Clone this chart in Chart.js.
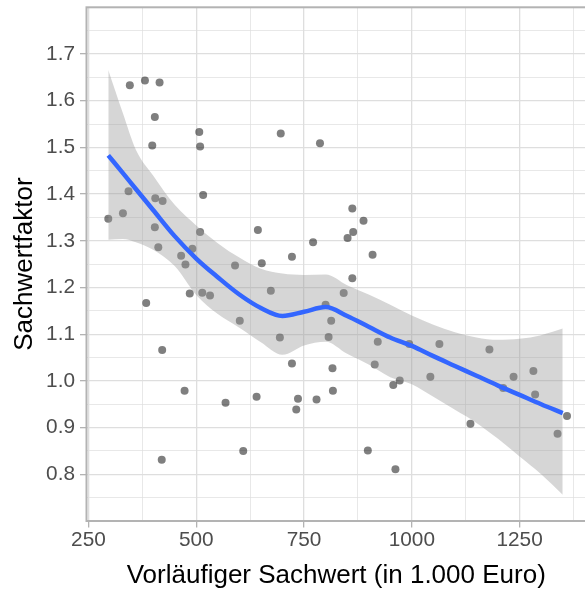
<!DOCTYPE html>
<html>
<head>
<meta charset="utf-8">
<script src="https://cdn.jsdelivr.net/npm/chart.js@4"></script>
<style>
  html, body { margin: 0; padding: 0; background: #fff; overflow: hidden; }
  #wrap { width: 585px; height: 592px; overflow: hidden; }
</style>
</head>
<body>
<div id="wrap"><canvas id="chart" width="590" height="592"></canvas></div>
<script>
// Objekte: vorläufiger Sachwert (1.000 Euro) und Sachwertfaktor
const sachwert = [346, 381, 415, 404, 507, 398, 509, 343, 516, 405,
  422, 330, 296, 404, 509, 412, 491, 465, 475, 590,
  643, 696, 787, 862, 888, 864, 851, 771, 722, 909,
  652, 862, 384, 485, 514, 532, 601, 421, 473, 568,
  640, 609, 420, 673, 694, 722, 736, 732, 779, 842,
  800, 813, 807, 921, 914, 816, 817, 957, 972, 898,
  962, 994, 1064, 1180, 1043, 1236, 1282, 1212, 1286, 1360,
  1338, 1136]
const faktor = [1.633, 1.643, 1.639, 1.565, 1.533, 1.504, 1.502, 1.406, 1.398, 1.391,
  1.385, 1.359, 1.347, 1.329, 1.319, 1.286, 1.283, 1.268, 1.249, 1.247,
  1.323, 1.530, 1.509, 1.369, 1.343, 1.319, 1.306, 1.297, 1.266, 1.270,
  1.252, 1.220, 1.167, 1.187, 1.189, 1.183, 1.129, 1.066, 0.979, 0.953,
  0.966, 0.850, 0.831, 1.193, 1.093, 1.037, 0.962, 0.939, 0.960, 1.188,
  1.163, 1.129, 1.094, 1.084, 1.035, 1.027, 0.979, 0.991, 1.001, 0.851,
  0.811, 1.079, 1.079, 1.067, 1.009, 1.009, 1.021, 0.985, 0.971, 0.925,
  0.887, 0.908]

// Glättungskurve (loess) mit Konfidenzband
const smoothX = [296, 330, 360, 400, 450, 500, 550, 600, 650, 700, 750, 800,
  850, 900, 950, 1000, 1050, 1100, 1150, 1200, 1250, 1300, 1350]
const smoothFit = [1.483, 1.445, 1.411, 1.366, 1.310, 1.262, 1.222, 1.185, 1.156, 1.139, 1.148, 1.158,
  1.139, 1.116, 1.093, 1.075, 1.053, 1.032, 1.011, 0.990, 0.970, 0.950, 0.931]
const smoothUpper = [1.666, 1.573, 1.495, 1.440, 1.377, 1.333, 1.295, 1.264, 1.240, 1.230, 1.227, 1.228,
  1.205, 1.185, 1.163, 1.140, 1.120, 1.104, 1.093, 1.088, 1.090, 1.098, 1.112]
const smoothLower = [1.302, 1.304, 1.297, 1.281, 1.246, 1.184, 1.143, 1.114, 1.083, 1.056, 1.076, 1.084,
  1.058, 1.035, 1.008, 0.993, 0.966, 0.938, 0.910, 0.876, 0.838, 0.800, 0.756]

// Achsen
const xMajor = [250, 500, 750, 1000, 1250]
const xMinor = [375, 625, 875, 1125, 1375]
const yMajor = [0.8, 0.9, 1.0, 1.1, 1.2, 1.3, 1.4, 1.5, 1.6, 1.7]
const yMinor = [0.75, 0.85, 0.95, 1.05, 1.15, 1.25, 1.35, 1.45, 1.55, 1.65, 1.75]

const FONT = "'Liberation Sans', Arial, Helvetica, sans-serif"
const r2 = (v) => Math.round(v * 100) / 100
const isMajorX = (v) => xMajor.includes(Math.round(v))
const isMajorY = (v) => yMajor.map(r2).includes(r2(v))

// Panelrahmen wie bei theme_light
const panelBorder = {
  id: "panelBorder",
  afterDatasetsDraw(chart) {
    const { ctx, chartArea: a } = chart
    ctx.save()
    ctx.strokeStyle = "#b3b3b3"
    ctx.lineWidth = 2
    ctx.strokeRect(a.left, a.top, a.right - a.left, a.bottom - a.top)
    ctx.restore()
  },
}

const ctx = document.getElementById("chart").getContext("2d")

new Chart(ctx, {
  type: "scatter",
  data: {
    datasets: [
      {
        label: "loess",
        data: smoothX.map((x, i) => ({ x: x, y: smoothFit[i] })),
        showLine: true,
        borderColor: "#3366FF",
        borderWidth: 4.5,
        pointRadius: 0,
        cubicInterpolationMode: "monotone",
        fill: false,
        order: 0,
      },
      {
        label: "oben",
        data: smoothX.map((x, i) => ({ x: x, y: smoothUpper[i] })),
        showLine: true,
        borderColor: "rgba(0,0,0,0)",
        borderWidth: 0,
        backgroundColor: "rgba(153,153,153,0.4)",
        pointRadius: 0,
        cubicInterpolationMode: "monotone",
        fill: "+1",
        order: 1,
      },
      {
        label: "unten",
        data: smoothX.map((x, i) => ({ x: x, y: smoothLower[i] })),
        showLine: true,
        borderColor: "rgba(0,0,0,0)",
        borderWidth: 0,
        pointRadius: 0,
        cubicInterpolationMode: "monotone",
        fill: false,
        order: 2,
      },
      {
        label: "Objekte",
        data: sachwert.map((x, i) => ({ x: x, y: faktor[i] })),
        backgroundColor: "rgba(0,0,0,0.5)",
        borderWidth: 0,
        pointRadius: 4,
        order: 3,
      },
    ],
  },
  options: {
    responsive: false,
    animation: false,
    layout: { padding: { top: 7.3, right: 3, left: 0, bottom: 0 } },
    plugins: {
      legend: { display: false },
      tooltip: { enabled: false },
    },
    scales: {
      x: {
        type: "linear",
        min: 245.5,
        max: 1404,
        afterBuildTicks: (s) => {
          s.ticks = xMajor.concat(xMinor).sort((a, b) => a - b).map((v) => ({ value: v }))
        },
        afterFit: (s) => {
          s.height = 71
          s.paddingLeft = 0
          s.paddingRight = 0
        },
        border: { display: false },
        grid: {
          color: "#dedede",
          lineWidth: (c) => (c.tick && isMajorX(c.tick.value) ? 1.3 : 0.7),
          tickColor: (c) => (c.tick && isMajorX(c.tick.value) ? "#b3b3b3" : "rgba(0,0,0,0)"),
          tickLength: 6.5,
          tickWidth: 1.3,
        },
        ticks: {
          autoSkip: false,
          maxRotation: 0,
          padding: 0,
          color: "#4d4d4d",
          font: { family: FONT, size: 20.8 },
          callback: (v) => (isMajorX(v) ? String(v) : ""),
        },
        title: {
          display: true,
          text: "Vorläufiger Sachwert (in 1.000 Euro)",
          color: "#000",
          font: { family: FONT, size: 26 },
          padding: { top: 0, bottom: 1 },
        },
      },
      y: {
        type: "linear",
        min: 0.7,
        max: 1.8,
        afterBuildTicks: (s) => {
          s.ticks = yMajor.concat(yMinor).sort((a, b) => a - b).map((v) => ({ value: v }))
        },
        afterFit: (s) => {
          s.width = 86.5
          s.paddingTop = 0
          s.paddingBottom = 0
        },
        border: { display: false },
        grid: {
          color: "#dedede",
          lineWidth: (c) => (c.tick && isMajorY(c.tick.value) ? 1.3 : 0.7),
          tickColor: (c) => (c.tick && isMajorY(c.tick.value) ? "#b3b3b3" : "rgba(0,0,0,0)"),
          tickLength: 6.5,
          tickWidth: 1.3,
        },
        ticks: {
          autoSkip: false,
          padding: 5,
          color: "#4d4d4d",
          font: { family: FONT, size: 20.8 },
          callback: (v) => (isMajorY(v) ? v.toFixed(1) : ""),
        },
        title: {
          display: true,
          text: "Sachwertfaktor",
          color: "#000",
          font: { family: FONT, size: 26 },
          padding: { top: 9, bottom: 0 },
        },
      },
    },
  },
  plugins: [panelBorder],
})
</script>
</body>
</html>
